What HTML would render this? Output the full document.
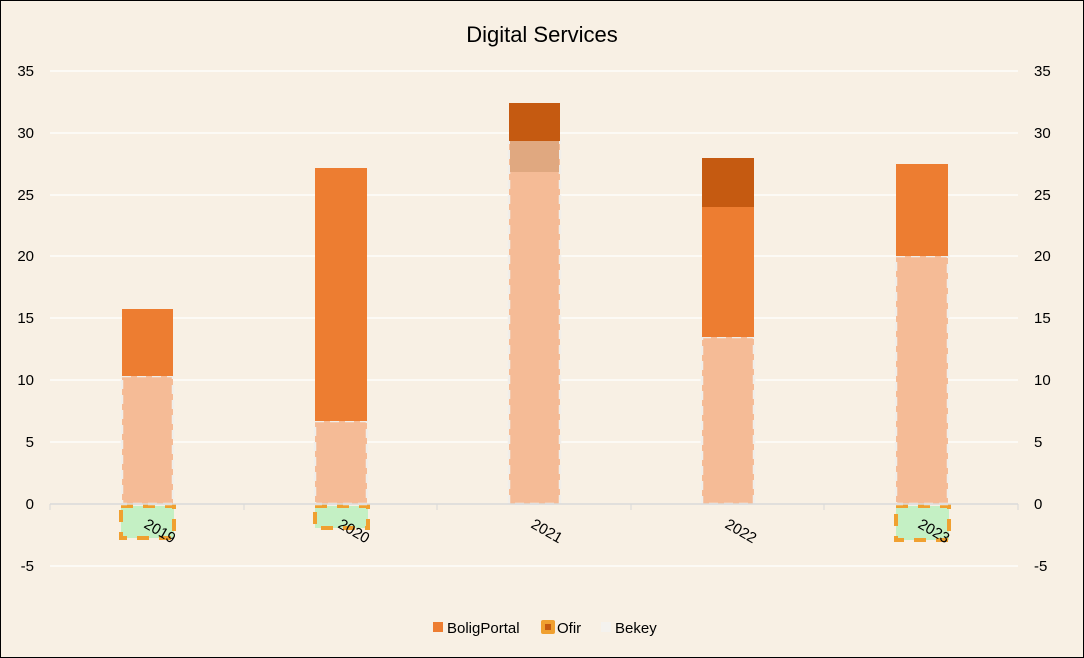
<!DOCTYPE html><html><head><style>body{margin:0;background:#fff}svg{display:block;font-family:"Liberation Sans",sans-serif}</style></head><body>
<svg width="1084" height="658" viewBox="0 0 1084 658">
<rect x="0.5" y="0.5" width="1083" height="657" fill="#f8f0e4" stroke="#000"/>
<text x="542" y="42" text-anchor="middle" font-size="22" fill="#000">Digital Services</text>
<g stroke="#fff" stroke-width="1.2">
<line x1="50" x2="1018" y1="71" y2="71"/><line x1="50" x2="1018" y1="133" y2="133"/><line x1="50" x2="1018" y1="195" y2="195"/><line x1="50" x2="1018" y1="256" y2="256"/><line x1="50" x2="1018" y1="318" y2="318"/><line x1="50" x2="1018" y1="380" y2="380"/><line x1="50" x2="1018" y1="442" y2="442"/><line x1="50" x2="1018" y1="566" y2="566"/>
</g>
<g font-size="15" fill="#000">
<g text-anchor="end"><text x="34" y="76">35</text><text x="34" y="138">30</text><text x="34" y="200">25</text><text x="34" y="261">20</text><text x="34" y="323">15</text><text x="34" y="385">10</text><text x="34" y="447">5</text><text x="34" y="509">0</text><text x="34" y="571">-5</text></g>
<g text-anchor="start"><text x="1034" y="76">35</text><text x="1034" y="138">30</text><text x="1034" y="200">25</text><text x="1034" y="261">20</text><text x="1034" y="323">15</text><text x="1034" y="385">10</text><text x="1034" y="447">5</text><text x="1034" y="509">0</text><text x="1034" y="571">-5</text></g>
</g>
<!-- negative boxes -->
<rect x="121" y="506" width="53" height="32" fill="#c4f0c4" stroke="#f0a030" stroke-width="4" stroke-dasharray="12,10"/>
<rect x="315" y="506" width="53" height="22" fill="#c4f0c4" stroke="#f0a030" stroke-width="4" stroke-dasharray="12,10"/>
<rect x="896" y="506" width="53" height="34" fill="#c4f0c4" stroke="#f0a030" stroke-width="4" stroke-dasharray="12,10"/>
<!-- bars -->
<g stroke="#f0eeea" stroke-width="2.5" stroke-dasharray="9,6">
<rect x="122" y="376" width="51" height="128" fill="#f5bb96"/>
<rect x="315" y="421" width="52" height="83" fill="#f5bb96"/>
<rect x="509" y="141" width="51" height="363" fill="#f5bb96"/>
<rect x="702" y="337" width="52" height="167" fill="#f5bb96"/>
<rect x="896" y="256" width="52" height="248" fill="#f5bb96"/>
</g>
<rect x="510" y="141" width="49" height="31" fill="#e0a880"/>
<rect x="122" y="309" width="51" height="67" fill="#ed7d31"/>
<rect x="315" y="168" width="52" height="253" fill="#ed7d31"/>
<rect x="702" y="207" width="52" height="130" fill="#ed7d31"/>
<rect x="896" y="164" width="52" height="92" fill="#ed7d31"/>
<rect x="509" y="103" width="51" height="38" fill="#c55a11"/>
<rect x="702" y="158" width="52" height="49" fill="#c55a11"/>
<line x1="50" x2="1018" y1="504" y2="504" stroke="#d9d9d9" stroke-width="1.5"/>
<g stroke="#d9d9d9"><line x1="50" x2="50" y1="504" y2="510"/><line x1="244" x2="244" y1="504" y2="510"/><line x1="437" x2="437" y1="504" y2="510"/><line x1="631" x2="631" y1="504" y2="510"/><line x1="824" x2="824" y1="504" y2="510"/><line x1="1018" x2="1018" y1="504" y2="510"/></g>
<g font-size="15" fill="#000">
<text transform="translate(143,527) rotate(30)">2019</text>
<text transform="translate(337,527) rotate(30)">2020</text>
<text transform="translate(530,527) rotate(30)">2021</text>
<text transform="translate(724,527) rotate(30)">2022</text>
<text transform="translate(917,527) rotate(30)">2023</text>
</g>
<g font-size="15" fill="#000">
<rect x="433" y="622" width="10" height="10" fill="#ed7d31"/><text x="447" y="633">BoligPortal</text>
<rect x="541" y="620" width="14" height="14" fill="#f0a030" rx="2"/><rect x="545" y="624" width="6" height="6" fill="#c55a11"/><text x="557" y="633">Ofir</text>
<rect x="601" y="622" width="10" height="10" fill="#f4f2ee"/><text x="615" y="633">Bekey</text>
</g>
</svg></body></html>
